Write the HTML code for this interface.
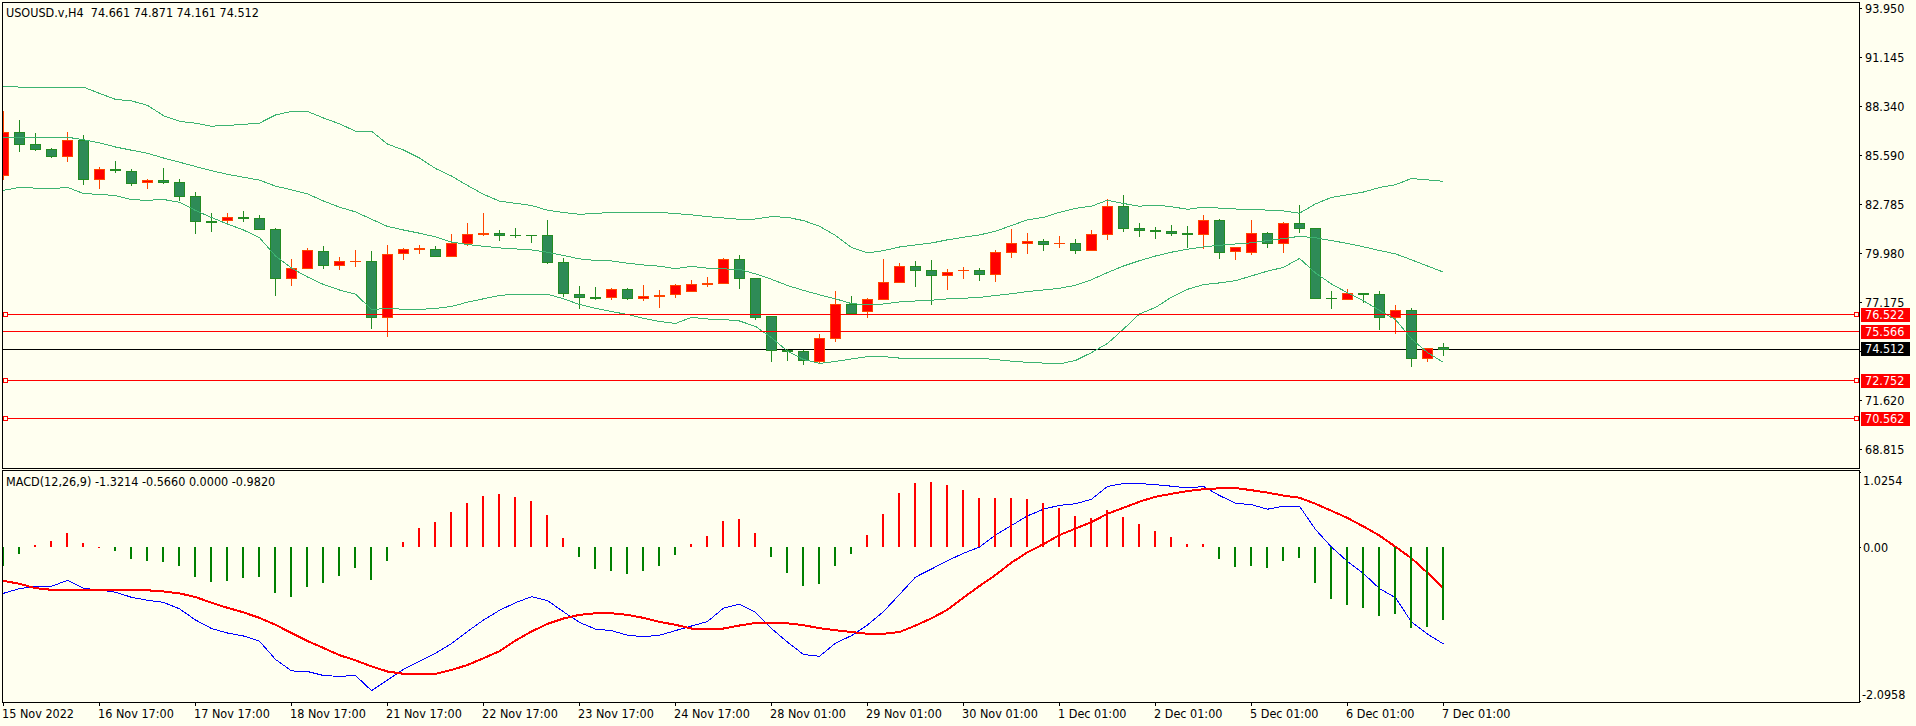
<!DOCTYPE html>
<html><head><meta charset="utf-8"><title>USOUSD.v,H4</title>
<style>html,body{margin:0;padding:0;background:#FFFFF0;width:1916px;height:726px;overflow:hidden}svg{display:block}</style>
</head><body><svg width="1916" height="726" viewBox="0 0 1916 726"><defs><clipPath id="cm"><rect x="3" y="3" width="1856" height="465"/></clipPath><clipPath id="cd"><rect x="3" y="471" width="1856" height="231"/></clipPath></defs><g clip-path="url(#cm)" shape-rendering="crispEdges"><rect x="3" y="349" width="1856" height="1" fill="#000"/><rect x="3" y="111" width="1" height="69" fill="#FF4500"/><rect x="-2" y="132" width="11" height="44" fill="#FF4500"/><rect x="-1" y="133" width="9" height="42" fill="#FF0000"/><rect x="19" y="120" width="1" height="32" fill="#228B22"/><rect x="14" y="132" width="11" height="13" fill="#228B22"/><rect x="15" y="133" width="9" height="11" fill="#2E8B57"/><rect x="35" y="133" width="1" height="18" fill="#228B22"/><rect x="30" y="144" width="11" height="6" fill="#228B22"/><rect x="31" y="145" width="9" height="4" fill="#2E8B57"/><rect x="51" y="148" width="1" height="10" fill="#228B22"/><rect x="46" y="149" width="11" height="8" fill="#228B22"/><rect x="47" y="150" width="9" height="6" fill="#2E8B57"/><rect x="67" y="132" width="1" height="30" fill="#FF4500"/><rect x="62" y="140" width="11" height="17" fill="#FF4500"/><rect x="63" y="141" width="9" height="15" fill="#FF0000"/><rect x="83" y="135" width="1" height="50" fill="#228B22"/><rect x="78" y="140" width="11" height="40" fill="#228B22"/><rect x="79" y="141" width="9" height="38" fill="#2E8B57"/><rect x="99" y="167" width="1" height="22" fill="#FF4500"/><rect x="94" y="169" width="11" height="11" fill="#FF4500"/><rect x="95" y="170" width="9" height="9" fill="#FF0000"/><rect x="115" y="161" width="1" height="12" fill="#228B22"/><rect x="110" y="169" width="11" height="2" fill="#228B22"/><rect x="131" y="169" width="1" height="17" fill="#228B22"/><rect x="126" y="171" width="11" height="13" fill="#228B22"/><rect x="127" y="172" width="9" height="11" fill="#2E8B57"/><rect x="147" y="179" width="1" height="10" fill="#FF4500"/><rect x="142" y="180" width="11" height="3" fill="#FF4500"/><rect x="143" y="181" width="9" height="1" fill="#FF0000"/><rect x="163" y="168" width="1" height="16" fill="#228B22"/><rect x="158" y="180" width="11" height="3" fill="#228B22"/><rect x="159" y="181" width="9" height="1" fill="#2E8B57"/><rect x="179" y="179" width="1" height="22" fill="#228B22"/><rect x="174" y="182" width="11" height="15" fill="#228B22"/><rect x="175" y="183" width="9" height="13" fill="#2E8B57"/><rect x="195" y="192" width="1" height="42" fill="#228B22"/><rect x="190" y="196" width="11" height="26" fill="#228B22"/><rect x="191" y="197" width="9" height="24" fill="#2E8B57"/><rect x="211" y="213" width="1" height="19" fill="#228B22"/><rect x="206" y="221" width="11" height="2" fill="#228B22"/><rect x="227" y="213" width="1" height="11" fill="#FF4500"/><rect x="222" y="217" width="11" height="4" fill="#FF4500"/><rect x="223" y="218" width="9" height="2" fill="#FF0000"/><rect x="243" y="211" width="1" height="11" fill="#228B22"/><rect x="238" y="217" width="11" height="2" fill="#228B22"/><rect x="259" y="215" width="1" height="15" fill="#228B22"/><rect x="254" y="218" width="11" height="12" fill="#228B22"/><rect x="255" y="219" width="9" height="10" fill="#2E8B57"/><rect x="275" y="228" width="1" height="68" fill="#228B22"/><rect x="270" y="229" width="11" height="50" fill="#228B22"/><rect x="271" y="230" width="9" height="48" fill="#2E8B57"/><rect x="291" y="259" width="1" height="27" fill="#FF4500"/><rect x="286" y="268" width="11" height="11" fill="#FF4500"/><rect x="287" y="269" width="9" height="9" fill="#FF0000"/><rect x="307" y="248" width="1" height="21" fill="#FF4500"/><rect x="302" y="250" width="11" height="19" fill="#FF4500"/><rect x="303" y="251" width="9" height="17" fill="#FF0000"/><rect x="323" y="246" width="1" height="23" fill="#228B22"/><rect x="318" y="251" width="11" height="15" fill="#228B22"/><rect x="319" y="252" width="9" height="13" fill="#2E8B57"/><rect x="339" y="257" width="1" height="13" fill="#FF4500"/><rect x="334" y="261" width="11" height="5" fill="#FF4500"/><rect x="335" y="262" width="9" height="3" fill="#FF0000"/><rect x="355" y="250" width="1" height="17" fill="#FF4500"/><rect x="350" y="261" width="11" height="1" fill="#FF4500"/><rect x="371" y="251" width="1" height="78" fill="#228B22"/><rect x="366" y="261" width="11" height="57" fill="#228B22"/><rect x="367" y="262" width="9" height="55" fill="#2E8B57"/><rect x="387" y="245" width="1" height="92" fill="#FF4500"/><rect x="382" y="254" width="11" height="64" fill="#FF4500"/><rect x="383" y="255" width="9" height="62" fill="#FF0000"/><rect x="403" y="248" width="1" height="12" fill="#FF4500"/><rect x="398" y="249" width="11" height="5" fill="#FF4500"/><rect x="399" y="250" width="9" height="3" fill="#FF0000"/><rect x="419" y="245" width="1" height="9" fill="#FF4500"/><rect x="414" y="248" width="11" height="2" fill="#FF4500"/><rect x="435" y="246" width="1" height="11" fill="#228B22"/><rect x="430" y="249" width="11" height="8" fill="#228B22"/><rect x="431" y="250" width="9" height="6" fill="#2E8B57"/><rect x="451" y="234" width="1" height="23" fill="#FF4500"/><rect x="446" y="243" width="11" height="14" fill="#FF4500"/><rect x="447" y="244" width="9" height="12" fill="#FF0000"/><rect x="467" y="223" width="1" height="23" fill="#FF4500"/><rect x="462" y="234" width="11" height="10" fill="#FF4500"/><rect x="463" y="235" width="9" height="8" fill="#FF0000"/><rect x="483" y="213" width="1" height="23" fill="#FF4500"/><rect x="478" y="233" width="11" height="2" fill="#FF4500"/><rect x="499" y="230" width="1" height="11" fill="#228B22"/><rect x="494" y="233" width="11" height="3" fill="#228B22"/><rect x="495" y="234" width="9" height="1" fill="#2E8B57"/><rect x="515" y="228" width="1" height="10" fill="#228B22"/><rect x="510" y="235" width="11" height="1" fill="#228B22"/><rect x="531" y="235" width="1" height="8" fill="#228B22"/><rect x="526" y="235" width="11" height="1" fill="#228B22"/><rect x="547" y="220" width="1" height="44" fill="#228B22"/><rect x="542" y="235" width="11" height="28" fill="#228B22"/><rect x="543" y="236" width="9" height="26" fill="#2E8B57"/><rect x="563" y="258" width="1" height="39" fill="#228B22"/><rect x="558" y="262" width="11" height="32" fill="#228B22"/><rect x="559" y="263" width="9" height="30" fill="#2E8B57"/><rect x="579" y="286" width="1" height="23" fill="#228B22"/><rect x="574" y="294" width="11" height="4" fill="#228B22"/><rect x="575" y="295" width="9" height="2" fill="#2E8B57"/><rect x="595" y="287" width="1" height="13" fill="#228B22"/><rect x="590" y="297" width="11" height="2" fill="#228B22"/><rect x="611" y="288" width="1" height="12" fill="#FF4500"/><rect x="606" y="289" width="11" height="9" fill="#FF4500"/><rect x="607" y="290" width="9" height="7" fill="#FF0000"/><rect x="627" y="288" width="1" height="12" fill="#228B22"/><rect x="622" y="289" width="11" height="10" fill="#228B22"/><rect x="623" y="290" width="9" height="8" fill="#2E8B57"/><rect x="643" y="285" width="1" height="16" fill="#FF4500"/><rect x="638" y="296" width="11" height="3" fill="#FF4500"/><rect x="639" y="297" width="9" height="1" fill="#FF0000"/><rect x="659" y="290" width="1" height="18" fill="#FF4500"/><rect x="654" y="295" width="11" height="2" fill="#FF4500"/><rect x="675" y="284" width="1" height="14" fill="#FF4500"/><rect x="670" y="285" width="11" height="10" fill="#FF4500"/><rect x="671" y="286" width="9" height="8" fill="#FF0000"/><rect x="691" y="280" width="1" height="12" fill="#FF4500"/><rect x="686" y="284" width="11" height="8" fill="#FF4500"/><rect x="687" y="285" width="9" height="6" fill="#FF0000"/><rect x="707" y="277" width="1" height="10" fill="#FF4500"/><rect x="702" y="283" width="11" height="2" fill="#FF4500"/><rect x="723" y="258" width="1" height="26" fill="#FF4500"/><rect x="718" y="259" width="11" height="25" fill="#FF4500"/><rect x="719" y="260" width="9" height="23" fill="#FF0000"/><rect x="739" y="255" width="1" height="34" fill="#228B22"/><rect x="734" y="259" width="11" height="20" fill="#228B22"/><rect x="735" y="260" width="9" height="18" fill="#2E8B57"/><rect x="755" y="278" width="1" height="42" fill="#228B22"/><rect x="750" y="278" width="11" height="40" fill="#228B22"/><rect x="751" y="279" width="9" height="38" fill="#2E8B57"/><rect x="771" y="316" width="1" height="46" fill="#228B22"/><rect x="766" y="316" width="11" height="35" fill="#228B22"/><rect x="767" y="317" width="9" height="33" fill="#2E8B57"/><rect x="787" y="349" width="1" height="12" fill="#228B22"/><rect x="782" y="350" width="11" height="2" fill="#228B22"/><rect x="803" y="350" width="1" height="15" fill="#228B22"/><rect x="798" y="351" width="11" height="10" fill="#228B22"/><rect x="799" y="352" width="9" height="8" fill="#2E8B57"/><rect x="819" y="334" width="1" height="30" fill="#FF4500"/><rect x="814" y="338" width="11" height="24" fill="#FF4500"/><rect x="815" y="339" width="9" height="22" fill="#FF0000"/><rect x="835" y="291" width="1" height="51" fill="#FF4500"/><rect x="830" y="304" width="11" height="35" fill="#FF4500"/><rect x="831" y="305" width="9" height="33" fill="#FF0000"/><rect x="851" y="296" width="1" height="18" fill="#228B22"/><rect x="846" y="304" width="11" height="10" fill="#228B22"/><rect x="847" y="305" width="9" height="8" fill="#2E8B57"/><rect x="867" y="298" width="1" height="20" fill="#FF4500"/><rect x="862" y="299" width="11" height="13" fill="#FF4500"/><rect x="863" y="300" width="9" height="11" fill="#FF0000"/><rect x="883" y="259" width="1" height="40" fill="#FF4500"/><rect x="878" y="282" width="11" height="18" fill="#FF4500"/><rect x="879" y="283" width="9" height="16" fill="#FF0000"/><rect x="899" y="263" width="1" height="20" fill="#FF4500"/><rect x="894" y="266" width="11" height="17" fill="#FF4500"/><rect x="895" y="267" width="9" height="15" fill="#FF0000"/><rect x="915" y="261" width="1" height="26" fill="#228B22"/><rect x="910" y="266" width="11" height="5" fill="#228B22"/><rect x="911" y="267" width="9" height="3" fill="#2E8B57"/><rect x="931" y="260" width="1" height="45" fill="#228B22"/><rect x="926" y="270" width="11" height="6" fill="#228B22"/><rect x="927" y="271" width="9" height="4" fill="#2E8B57"/><rect x="947" y="269" width="1" height="21" fill="#FF4500"/><rect x="942" y="272" width="11" height="4" fill="#FF4500"/><rect x="943" y="273" width="9" height="2" fill="#FF0000"/><rect x="963" y="267" width="1" height="12" fill="#FF4500"/><rect x="958" y="270" width="11" height="1" fill="#FF4500"/><rect x="979" y="268" width="1" height="13" fill="#228B22"/><rect x="974" y="270" width="11" height="5" fill="#228B22"/><rect x="975" y="271" width="9" height="3" fill="#2E8B57"/><rect x="995" y="250" width="1" height="32" fill="#FF4500"/><rect x="990" y="252" width="11" height="23" fill="#FF4500"/><rect x="991" y="253" width="9" height="21" fill="#FF0000"/><rect x="1011" y="229" width="1" height="29" fill="#FF4500"/><rect x="1006" y="243" width="11" height="10" fill="#FF4500"/><rect x="1007" y="244" width="9" height="8" fill="#FF0000"/><rect x="1027" y="233" width="1" height="21" fill="#FF4500"/><rect x="1022" y="241" width="11" height="3" fill="#FF4500"/><rect x="1023" y="242" width="9" height="1" fill="#FF0000"/><rect x="1043" y="239" width="1" height="12" fill="#228B22"/><rect x="1038" y="241" width="11" height="4" fill="#228B22"/><rect x="1039" y="242" width="9" height="2" fill="#2E8B57"/><rect x="1059" y="236" width="1" height="12" fill="#FF4500"/><rect x="1054" y="243" width="11" height="1" fill="#FF4500"/><rect x="1075" y="239" width="1" height="15" fill="#228B22"/><rect x="1070" y="243" width="11" height="8" fill="#228B22"/><rect x="1071" y="244" width="9" height="6" fill="#2E8B57"/><rect x="1091" y="230" width="1" height="21" fill="#FF4500"/><rect x="1086" y="234" width="11" height="17" fill="#FF4500"/><rect x="1087" y="235" width="9" height="15" fill="#FF0000"/><rect x="1107" y="199" width="1" height="41" fill="#FF4500"/><rect x="1102" y="206" width="11" height="29" fill="#FF4500"/><rect x="1103" y="207" width="9" height="27" fill="#FF0000"/><rect x="1123" y="195" width="1" height="37" fill="#228B22"/><rect x="1118" y="206" width="11" height="23" fill="#228B22"/><rect x="1119" y="207" width="9" height="21" fill="#2E8B57"/><rect x="1139" y="223" width="1" height="14" fill="#228B22"/><rect x="1134" y="228" width="11" height="3" fill="#228B22"/><rect x="1135" y="229" width="9" height="1" fill="#2E8B57"/><rect x="1155" y="227" width="1" height="12" fill="#228B22"/><rect x="1150" y="230" width="11" height="2" fill="#228B22"/><rect x="1171" y="225" width="1" height="11" fill="#228B22"/><rect x="1166" y="231" width="11" height="3" fill="#228B22"/><rect x="1167" y="232" width="9" height="1" fill="#2E8B57"/><rect x="1187" y="226" width="1" height="22" fill="#228B22"/><rect x="1182" y="233" width="11" height="2" fill="#228B22"/><rect x="1203" y="215" width="1" height="34" fill="#FF4500"/><rect x="1198" y="220" width="11" height="15" fill="#FF4500"/><rect x="1199" y="221" width="9" height="13" fill="#FF0000"/><rect x="1219" y="219" width="1" height="40" fill="#228B22"/><rect x="1214" y="220" width="11" height="33" fill="#228B22"/><rect x="1215" y="221" width="9" height="31" fill="#2E8B57"/><rect x="1235" y="247" width="1" height="13" fill="#FF4500"/><rect x="1230" y="247" width="11" height="5" fill="#FF4500"/><rect x="1231" y="248" width="9" height="3" fill="#FF0000"/><rect x="1251" y="220" width="1" height="35" fill="#FF4500"/><rect x="1246" y="233" width="11" height="20" fill="#FF4500"/><rect x="1247" y="234" width="9" height="18" fill="#FF0000"/><rect x="1267" y="232" width="1" height="16" fill="#228B22"/><rect x="1262" y="233" width="11" height="11" fill="#228B22"/><rect x="1263" y="234" width="9" height="9" fill="#2E8B57"/><rect x="1283" y="222" width="1" height="31" fill="#FF4500"/><rect x="1278" y="223" width="11" height="21" fill="#FF4500"/><rect x="1279" y="224" width="9" height="19" fill="#FF0000"/><rect x="1299" y="205" width="1" height="28" fill="#228B22"/><rect x="1294" y="223" width="11" height="6" fill="#228B22"/><rect x="1295" y="224" width="9" height="4" fill="#2E8B57"/><rect x="1315" y="228" width="1" height="70" fill="#228B22"/><rect x="1310" y="228" width="11" height="71" fill="#228B22"/><rect x="1311" y="229" width="9" height="69" fill="#2E8B57"/><rect x="1331" y="291" width="1" height="18" fill="#228B22"/><rect x="1326" y="298" width="11" height="1" fill="#228B22"/><rect x="1347" y="289" width="1" height="11" fill="#FF4500"/><rect x="1342" y="293" width="11" height="7" fill="#FF4500"/><rect x="1343" y="294" width="9" height="5" fill="#FF0000"/><rect x="1363" y="293" width="1" height="10" fill="#228B22"/><rect x="1358" y="293" width="11" height="2" fill="#228B22"/><rect x="1379" y="291" width="1" height="39" fill="#228B22"/><rect x="1374" y="294" width="11" height="24" fill="#228B22"/><rect x="1375" y="295" width="9" height="22" fill="#2E8B57"/><rect x="1395" y="305" width="1" height="29" fill="#FF4500"/><rect x="1390" y="310" width="11" height="8" fill="#FF4500"/><rect x="1391" y="311" width="9" height="6" fill="#FF0000"/><rect x="1411" y="308" width="1" height="59" fill="#228B22"/><rect x="1406" y="310" width="11" height="49" fill="#228B22"/><rect x="1407" y="311" width="9" height="47" fill="#2E8B57"/><rect x="1427" y="348" width="1" height="14" fill="#FF4500"/><rect x="1422" y="348" width="11" height="11" fill="#FF4500"/><rect x="1423" y="349" width="9" height="9" fill="#FF0000"/><rect x="1443" y="343" width="1" height="13" fill="#228B22"/><rect x="1438" y="347" width="11" height="3" fill="#228B22"/><rect x="1439" y="348" width="9" height="1" fill="#2E8B57"/><polyline points="-12.5,85.1 3.5,86.1 19.5,87.1 35.5,87.1 51.5,87.1 67.5,87.1 83.5,87.1 99.5,93.4 115.5,99.4 131.5,100.9 147.5,105.3 163.5,115.7 179.5,121.3 195.5,123.2 211.5,126.2 227.5,125.4 243.5,124.4 259.5,123.1 275.5,115.0 291.5,111.4 307.5,111.4 323.5,118.0 339.5,123.8 355.5,131.2 371.5,131.2 387.5,144.1 403.5,150.0 419.5,158.0 435.5,168.5 451.5,176.0 467.5,185.5 483.5,194.3 499.5,201.1 515.5,203.3 531.5,205.5 547.5,210.2 563.5,212.5 579.5,214.3 595.5,213.4 611.5,212.5 627.5,212.4 643.5,212.4 659.5,212.4 675.5,213.6 691.5,214.8 707.5,216.6 723.5,218.0 739.5,219.3 755.5,219.0 771.5,216.6 787.5,217.4 803.5,220.6 819.5,226.2 835.5,235.5 851.5,247.5 867.5,253.0 883.5,250.6 899.5,247.0 915.5,245.0 931.5,243.0 947.5,239.8 963.5,237.3 979.5,234.9 995.5,231.3 1011.5,225.5 1027.5,219.8 1043.5,217.4 1059.5,212.3 1075.5,208.3 1091.5,206.2 1107.5,200.2 1123.5,203.5 1139.5,206.2 1155.5,205.1 1171.5,206.7 1187.5,209.3 1203.5,207.2 1219.5,208.1 1235.5,209.0 1251.5,209.5 1267.5,210.1 1283.5,210.9 1299.5,213.2 1315.5,203.9 1331.5,197.4 1347.5,194.8 1363.5,192.0 1379.5,187.5 1395.5,184.7 1411.5,178.5 1427.5,179.9 1443.5,181.3" fill="none" stroke="#3CB371" stroke-width="1"/><polyline points="-12.5,138.8 3.5,138.0 19.5,137.2 35.5,137.2 51.5,137.2 67.5,137.2 83.5,139.8 99.5,142.8 115.5,147.0 131.5,150.2 147.5,153.3 163.5,158.0 179.5,162.2 195.5,166.5 211.5,170.7 227.5,174.3 243.5,177.2 259.5,180.1 275.5,186.1 291.5,189.8 307.5,193.9 323.5,201.0 339.5,207.2 355.5,211.9 371.5,219.2 387.5,226.4 403.5,230.0 419.5,233.2 435.5,236.9 451.5,242.0 467.5,244.5 483.5,246.3 499.5,247.9 515.5,248.9 531.5,249.9 547.5,252.3 563.5,255.5 579.5,258.9 595.5,260.5 611.5,261.0 627.5,263.2 643.5,265.0 659.5,266.2 675.5,268.7 691.5,266.4 707.5,268.2 723.5,268.9 739.5,269.4 755.5,273.9 771.5,279.3 787.5,285.5 803.5,290.4 819.5,294.8 835.5,298.8 851.5,303.6 867.5,304.8 883.5,304.0 899.5,302.0 915.5,301.0 931.5,300.2 947.5,298.9 963.5,298.2 979.5,297.5 995.5,295.5 1011.5,293.7 1027.5,291.6 1043.5,290.0 1059.5,288.3 1075.5,285.3 1091.5,279.7 1107.5,272.6 1123.5,266.0 1139.5,260.7 1155.5,256.0 1171.5,252.2 1187.5,249.2 1203.5,246.9 1219.5,245.3 1235.5,244.0 1251.5,242.8 1267.5,240.6 1283.5,238.6 1299.5,236.3 1315.5,237.8 1331.5,240.6 1347.5,243.4 1363.5,246.8 1379.5,250.5 1395.5,253.9 1411.5,259.8 1427.5,266.0 1443.5,272.2" fill="none" stroke="#3CB371" stroke-width="1"/><polyline points="-12.5,193.2 3.5,190.3 19.5,187.4 35.5,188.1 51.5,188.7 67.5,187.4 83.5,193.5 99.5,194.5 115.5,195.5 131.5,199.7 147.5,200.3 163.5,199.5 179.5,202.2 195.5,210.5 211.5,217.5 227.5,224.0 243.5,230.0 259.5,237.7 275.5,256.0 291.5,268.1 307.5,277.0 323.5,284.5 339.5,290.0 355.5,294.1 371.5,309.5 387.5,308.5 403.5,309.2 419.5,309.4 435.5,308.4 451.5,306.4 467.5,302.2 483.5,298.8 499.5,295.4 515.5,294.2 531.5,294.2 547.5,294.2 563.5,298.8 579.5,304.5 595.5,308.4 611.5,311.5 627.5,314.5 643.5,318.3 659.5,321.4 675.5,323.5 691.5,317.3 707.5,319.0 723.5,319.5 739.5,321.0 755.5,326.4 771.5,337.6 787.5,351.2 803.5,359.5 819.5,363.4 835.5,361.4 851.5,359.0 867.5,356.6 883.5,356.6 899.5,358.1 915.5,358.8 931.5,358.8 947.5,358.6 963.5,358.3 979.5,358.3 995.5,359.5 1011.5,361.2 1027.5,362.3 1043.5,363.1 1059.5,363.9 1075.5,360.5 1091.5,352.6 1107.5,343.5 1123.5,329.1 1139.5,313.9 1155.5,307.4 1171.5,297.2 1187.5,289.3 1203.5,284.6 1219.5,282.9 1235.5,280.7 1251.5,275.9 1267.5,271.1 1283.5,267.4 1299.5,258.4 1315.5,273.0 1331.5,284.0 1347.5,292.8 1363.5,300.8 1379.5,310.4 1395.5,319.6 1411.5,338.9 1427.5,352.5 1443.5,362.5" fill="none" stroke="#3CB371" stroke-width="1"/><rect x="3" y="314" width="1856" height="1" fill="#FF0000"/><rect x="3.5" y="312.5" width="4" height="4" fill="#FFFFF0" stroke="#FF0000" stroke-width="1"/><rect x="1854.5" y="312.5" width="4" height="4" fill="#FFFFF0" stroke="#FF0000" stroke-width="1"/><rect x="3" y="331" width="1856" height="1" fill="#FF0000"/><rect x="3" y="380" width="1856" height="1" fill="#FF0000"/><rect x="3.5" y="378.5" width="4" height="4" fill="#FFFFF0" stroke="#FF0000" stroke-width="1"/><rect x="1854.5" y="378.5" width="4" height="4" fill="#FFFFF0" stroke="#FF0000" stroke-width="1"/><rect x="3" y="418" width="1856" height="1" fill="#FF0000"/><rect x="3.5" y="416.5" width="4" height="4" fill="#FFFFF0" stroke="#FF0000" stroke-width="1"/><rect x="1854.5" y="416.5" width="4" height="4" fill="#FFFFF0" stroke="#FF0000" stroke-width="1"/></g><g clip-path="url(#cd)" shape-rendering="crispEdges"><polyline points="-12.5,598.0 3.5,593.3 19.5,588.6 35.5,586.5 51.5,586.3 67.5,580.3 83.5,588.4 99.5,589.9 115.5,592.2 131.5,597.3 147.5,600.2 163.5,602.4 179.5,608.8 195.5,620.0 211.5,628.5 227.5,633.0 243.5,636.0 259.5,641.2 275.5,659.4 291.5,670.9 307.5,671.5 323.5,675.5 339.5,676.4 355.5,675.5 371.5,690.6 387.5,680.0 403.5,669.4 419.5,661.2 435.5,653.3 451.5,643.6 467.5,631.5 483.5,620.0 499.5,610.3 515.5,602.7 531.5,596.7 547.5,600.6 563.5,611.8 579.5,622.4 595.5,629.1 611.5,630.7 627.5,635.2 643.5,636.7 659.5,635.2 675.5,630.6 691.5,626.0 707.5,621.5 723.5,608.2 739.5,604.2 755.5,612.4 771.5,628.5 787.5,642.1 803.5,654.5 819.5,656.3 835.5,643.2 851.5,635.6 867.5,625.0 883.5,611.5 899.5,594.5 915.5,577.1 931.5,569.0 947.5,560.8 963.5,553.2 979.5,547.1 995.5,535.0 1011.5,525.5 1027.5,515.9 1043.5,509.2 1059.5,505.3 1075.5,503.8 1091.5,499.2 1107.5,486.5 1123.5,483.5 1139.5,483.5 1155.5,484.7 1171.5,486.2 1187.5,488.0 1203.5,486.5 1219.5,495.5 1235.5,503.2 1251.5,504.7 1267.5,509.2 1283.5,506.2 1299.5,506.2 1315.5,529.5 1331.5,547.1 1347.5,561.4 1363.5,573.5 1379.5,588.6 1395.5,597.7 1411.5,622.0 1427.5,634.1 1443.5,644.0" fill="none" stroke="#0000FF" stroke-width="1"/><polyline points="-12.5,577.8 3.5,580.8 19.5,583.8 35.5,588.2 51.5,589.8 67.5,590.0 83.5,590.0 99.5,590.0 115.5,590.0 131.5,590.0 147.5,590.3 163.5,591.4 179.5,593.4 195.5,597.0 211.5,602.8 227.5,607.8 243.5,612.4 259.5,617.9 275.5,624.8 291.5,633.0 307.5,641.0 323.5,648.0 339.5,655.2 355.5,660.3 371.5,666.4 387.5,671.5 403.5,673.8 419.5,673.8 435.5,673.8 451.5,670.0 467.5,665.0 483.5,658.2 499.5,651.2 515.5,640.6 531.5,631.5 547.5,623.9 563.5,618.5 579.5,614.8 595.5,613.3 611.5,613.3 627.5,614.8 643.5,617.9 659.5,621.8 675.5,624.8 691.5,628.5 707.5,628.5 723.5,628.5 739.5,625.5 755.5,623.0 771.5,623.0 787.5,623.3 803.5,625.2 819.5,628.2 835.5,630.2 851.5,632.0 867.5,633.8 883.5,633.8 899.5,632.0 915.5,625.6 931.5,618.3 947.5,609.7 963.5,597.6 979.5,586.0 995.5,575.0 1011.5,562.6 1027.5,552.3 1043.5,544.1 1059.5,535.0 1075.5,528.6 1091.5,522.0 1107.5,513.8 1123.5,507.7 1139.5,501.7 1155.5,496.8 1171.5,493.8 1187.5,491.1 1203.5,489.2 1219.5,488.3 1235.5,488.0 1251.5,490.2 1267.5,492.6 1283.5,495.6 1299.5,497.7 1315.5,503.8 1331.5,510.8 1347.5,518.0 1363.5,526.5 1379.5,535.6 1395.5,546.8 1411.5,558.3 1427.5,572.8 1443.5,588.5" fill="none" stroke="#FF0000" stroke-width="2"/><rect x="2" y="547" width="2" height="19" fill="#008000"/><rect x="18" y="547" width="2" height="7" fill="#008000"/><rect x="34" y="545" width="2" height="2" fill="#FF0000"/><rect x="50" y="541" width="2" height="6" fill="#FF0000"/><rect x="66" y="533" width="2" height="14" fill="#FF0000"/><rect x="82" y="543" width="2" height="4" fill="#FF0000"/><rect x="98" y="547" width="2" height="1" fill="#FF0000"/><rect x="114" y="547" width="2" height="4" fill="#008000"/><rect x="130" y="547" width="2" height="12" fill="#008000"/><rect x="146" y="547" width="2" height="14" fill="#008000"/><rect x="162" y="547" width="2" height="15" fill="#008000"/><rect x="178" y="547" width="2" height="19" fill="#008000"/><rect x="194" y="547" width="2" height="30" fill="#008000"/><rect x="210" y="547" width="2" height="35" fill="#008000"/><rect x="226" y="547" width="2" height="34" fill="#008000"/><rect x="242" y="547" width="2" height="31" fill="#008000"/><rect x="258" y="547" width="2" height="30" fill="#008000"/><rect x="274" y="547" width="2" height="46" fill="#008000"/><rect x="290" y="547" width="2" height="50" fill="#008000"/><rect x="306" y="547" width="2" height="40" fill="#008000"/><rect x="322" y="547" width="2" height="36" fill="#008000"/><rect x="338" y="547" width="2" height="29" fill="#008000"/><rect x="354" y="547" width="2" height="21" fill="#008000"/><rect x="370" y="547" width="2" height="33" fill="#008000"/><rect x="386" y="547" width="2" height="14" fill="#008000"/><rect x="402" y="542" width="2" height="5" fill="#FF0000"/><rect x="418" y="528" width="2" height="19" fill="#FF0000"/><rect x="434" y="522" width="2" height="25" fill="#FF0000"/><rect x="450" y="512" width="2" height="35" fill="#FF0000"/><rect x="466" y="503" width="2" height="44" fill="#FF0000"/><rect x="482" y="496" width="2" height="51" fill="#FF0000"/><rect x="498" y="494" width="2" height="53" fill="#FF0000"/><rect x="514" y="497" width="2" height="50" fill="#FF0000"/><rect x="530" y="501" width="2" height="46" fill="#FF0000"/><rect x="546" y="515" width="2" height="32" fill="#FF0000"/><rect x="562" y="538" width="2" height="9" fill="#FF0000"/><rect x="578" y="547" width="2" height="10" fill="#008000"/><rect x="594" y="547" width="2" height="22" fill="#008000"/><rect x="610" y="547" width="2" height="24" fill="#008000"/><rect x="626" y="547" width="2" height="27" fill="#008000"/><rect x="642" y="547" width="2" height="24" fill="#008000"/><rect x="658" y="547" width="2" height="19" fill="#008000"/><rect x="674" y="547" width="2" height="8" fill="#008000"/><rect x="690" y="544" width="2" height="3" fill="#FF0000"/><rect x="706" y="536" width="2" height="11" fill="#FF0000"/><rect x="722" y="521" width="2" height="26" fill="#FF0000"/><rect x="738" y="519" width="2" height="28" fill="#FF0000"/><rect x="754" y="533" width="2" height="14" fill="#FF0000"/><rect x="770" y="547" width="2" height="10" fill="#008000"/><rect x="786" y="547" width="2" height="26" fill="#008000"/><rect x="802" y="547" width="2" height="39" fill="#008000"/><rect x="818" y="547" width="2" height="37" fill="#008000"/><rect x="834" y="547" width="2" height="19" fill="#008000"/><rect x="850" y="547" width="2" height="7" fill="#008000"/><rect x="866" y="535" width="2" height="12" fill="#FF0000"/><rect x="882" y="514" width="2" height="33" fill="#FF0000"/><rect x="898" y="493" width="2" height="54" fill="#FF0000"/><rect x="914" y="483" width="2" height="64" fill="#FF0000"/><rect x="930" y="482" width="2" height="65" fill="#FF0000"/><rect x="946" y="485" width="2" height="62" fill="#FF0000"/><rect x="962" y="490" width="2" height="57" fill="#FF0000"/><rect x="978" y="498" width="2" height="49" fill="#FF0000"/><rect x="994" y="498" width="2" height="49" fill="#FF0000"/><rect x="1010" y="498" width="2" height="49" fill="#FF0000"/><rect x="1026" y="499" width="2" height="48" fill="#FF0000"/><rect x="1042" y="503" width="2" height="44" fill="#FF0000"/><rect x="1058" y="508" width="2" height="39" fill="#FF0000"/><rect x="1074" y="516" width="2" height="31" fill="#FF0000"/><rect x="1090" y="518" width="2" height="29" fill="#FF0000"/><rect x="1106" y="510" width="2" height="37" fill="#FF0000"/><rect x="1122" y="517" width="2" height="30" fill="#FF0000"/><rect x="1138" y="524" width="2" height="23" fill="#FF0000"/><rect x="1154" y="531" width="2" height="16" fill="#FF0000"/><rect x="1170" y="537" width="2" height="10" fill="#FF0000"/><rect x="1186" y="544" width="2" height="3" fill="#FF0000"/><rect x="1202" y="544" width="2" height="3" fill="#FF0000"/><rect x="1218" y="547" width="2" height="12" fill="#008000"/><rect x="1234" y="547" width="2" height="20" fill="#008000"/><rect x="1250" y="547" width="2" height="19" fill="#008000"/><rect x="1266" y="547" width="2" height="21" fill="#008000"/><rect x="1282" y="547" width="2" height="14" fill="#008000"/><rect x="1298" y="547" width="2" height="11" fill="#008000"/><rect x="1314" y="547" width="2" height="36" fill="#008000"/><rect x="1330" y="547" width="2" height="52" fill="#008000"/><rect x="1346" y="547" width="2" height="58" fill="#008000"/><rect x="1362" y="547" width="2" height="61" fill="#008000"/><rect x="1378" y="547" width="2" height="69" fill="#008000"/><rect x="1394" y="547" width="2" height="67" fill="#008000"/><rect x="1410" y="547" width="2" height="81" fill="#008000"/><rect x="1426" y="547" width="2" height="80" fill="#008000"/><rect x="1442" y="547" width="2" height="73" fill="#008000"/></g><g shape-rendering="crispEdges" fill="none" stroke="#000" stroke-width="1"><rect x="2.5" y="2.5" width="1857" height="466"/><rect x="2.5" y="470.5" width="1857" height="232"/></g><g shape-rendering="crispEdges" fill="#000"><rect x="1860" y="8" width="2" height="1"/><rect x="1860" y="57" width="2" height="1"/><rect x="1860" y="106" width="2" height="1"/><rect x="1860" y="155" width="2" height="1"/><rect x="1860" y="204" width="2" height="1"/><rect x="1860" y="253" width="2" height="1"/><rect x="1860" y="302" width="2" height="1"/><rect x="1860" y="351" width="2" height="1"/><rect x="1860" y="400" width="2" height="1"/><rect x="1860" y="449" width="2" height="1"/><rect x="1860" y="472" width="1" height="1"/><rect x="1860" y="547" width="1" height="1"/><rect x="1860" y="701" width="1" height="1"/><rect x="3" y="703" width="1" height="3"/><rect x="99" y="703" width="1" height="3"/><rect x="195" y="703" width="1" height="3"/><rect x="291" y="703" width="1" height="3"/><rect x="387" y="703" width="1" height="3"/><rect x="483" y="703" width="1" height="3"/><rect x="579" y="703" width="1" height="3"/><rect x="675" y="703" width="1" height="3"/><rect x="771" y="703" width="1" height="3"/><rect x="867" y="703" width="1" height="3"/><rect x="963" y="703" width="1" height="3"/><rect x="1059" y="703" width="1" height="3"/><rect x="1155" y="703" width="1" height="3"/><rect x="1251" y="703" width="1" height="3"/><rect x="1347" y="703" width="1" height="3"/><rect x="1443" y="703" width="1" height="3"/></g><g font-family="'DejaVu Sans Condensed','Liberation Sans',sans-serif" font-size="12.5" fill="#000"><text x="1865" y="13">93.950</text><text x="1865" y="62">91.145</text><text x="1865" y="111">88.340</text><text x="1865" y="160">85.590</text><text x="1865" y="209">82.785</text><text x="1865" y="258">79.980</text><text x="1865" y="307">77.175</text><text x="1865" y="405">71.620</text><text x="1865" y="454">68.815</text><text x="1863" y="485">1.0254</text><text x="1863" y="552">0.00</text><text x="1862" y="699">-2.0958</text><text x="2" y="718">15 Nov 2022</text><text x="98" y="718">16 Nov 17:00</text><text x="194" y="718">17 Nov 17:00</text><text x="290" y="718">18 Nov 17:00</text><text x="386" y="718">21 Nov 17:00</text><text x="482" y="718">22 Nov 17:00</text><text x="578" y="718">23 Nov 17:00</text><text x="674" y="718">24 Nov 17:00</text><text x="770" y="718">28 Nov 01:00</text><text x="866" y="718">29 Nov 01:00</text><text x="962" y="718">30 Nov 01:00</text><text x="1058" y="718">1 Dec 01:00</text><text x="1154" y="718">2 Dec 01:00</text><text x="1250" y="718">5 Dec 01:00</text><text x="1346" y="718">6 Dec 01:00</text><text x="1442" y="718">7 Dec 01:00</text><text x="6" y="17" style="white-space:pre">USOUSD.v,H4  74.661 74.871 74.161 74.512</text><text x="6" y="486">MACD(12,26,9) -1.3214 -0.5660 0.0000 -0.9820</text><rect x="1861" y="308" width="49" height="14" fill="#FF0000" shape-rendering="crispEdges"/><text x="1865" y="319" fill="#FFF">76.522</text><rect x="1861" y="325" width="49" height="14" fill="#FF0000" shape-rendering="crispEdges"/><text x="1865" y="336" fill="#FFF">75.566</text><rect x="1861" y="342" width="49" height="14" fill="#000000" shape-rendering="crispEdges"/><text x="1865" y="353" fill="#FFF">74.512</text><rect x="1861" y="374" width="49" height="14" fill="#FF0000" shape-rendering="crispEdges"/><text x="1865" y="385" fill="#FFF">72.752</text><rect x="1861" y="412" width="49" height="14" fill="#FF0000" shape-rendering="crispEdges"/><text x="1865" y="423" fill="#FFF">70.562</text></g></svg></body></html>
